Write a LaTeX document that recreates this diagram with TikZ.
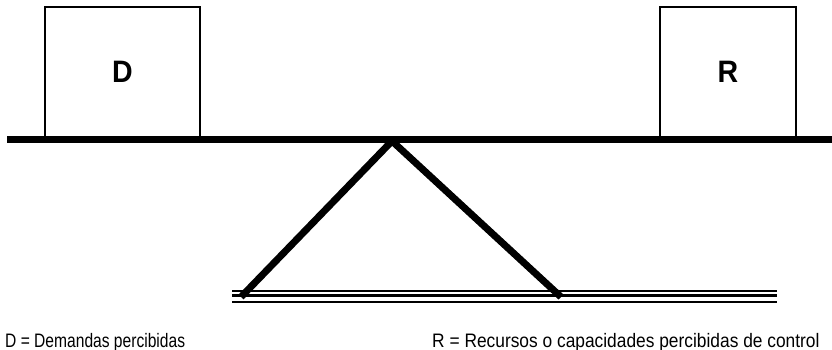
\documentclass[tikz,border=0pt]{standalone}
\usepackage{fontspec}
\setmainfont{Liberation Sans}
\newfontfamily\boxfont[FakeStretch=0.92]{Liberation Sans}
\newfontfamily\legfontD[FakeStretch=0.80]{Liberation Sans}
\newfontfamily\legfontR[FakeStretch=0.89]{Liberation Sans}
\begin{document}
\begin{tikzpicture}[x=1pt,y=-1pt,
  weight/.style={draw,line width=1.5pt,minimum width=155pt,minimum height=130pt,
    inner sep=0pt,font=\boxfont\bfseries\fontsize{31}{33}\selectfont},
  beam/.style={line width=7pt},
  leg/.style={line width=7pt},
  legend/.style={anchor=base west,inner sep=0pt}]
\useasboundingbox (0,0) rectangle (832,350);
% weights on the beam
\node[weight] (D) at (122.5,72) {\raisebox{-2.5pt}{D}};
\node[weight,minimum width=136pt] (R) at (728,72) {\raisebox{-2.5pt}{R}};
% beam
\coordinate (bl) at (7,139.5);
\coordinate (br) at (832,139.5);
\draw[beam] (bl) -- (br);
% fulcrum legs
\coordinate (apex) at (392,141);
\coordinate (footL) at (241,297);
\coordinate (footR) at (561,297);
\draw[leg] (footL) -- (apex) -- (footR);
% ground
\coordinate (g1l) at (232,291); \coordinate (g1r) at (777,291);
\coordinate (g2l) at (232,295); \coordinate (g2r) at (777,295);
\coordinate (g3l) at (232,302); \coordinate (g3r) at (777,302);
\draw[line width=2pt] (g1l) -- (g1r);
\draw[line width=3pt] (g2l) -- (g2r);
\draw[line width=2pt] (g3l) -- (g3r);
% legend
\node[legend,font=\legfontD\fontsize{19.5}{21}\selectfont] (legD) at (5,347) {D = Demandas percibidas};
\node[legend,font=\legfontR\fontsize{19.5}{21}\selectfont] (legR) at (432,347) {R = Recursos o capacidades percibidas de control};
\end{tikzpicture}
\end{document}
